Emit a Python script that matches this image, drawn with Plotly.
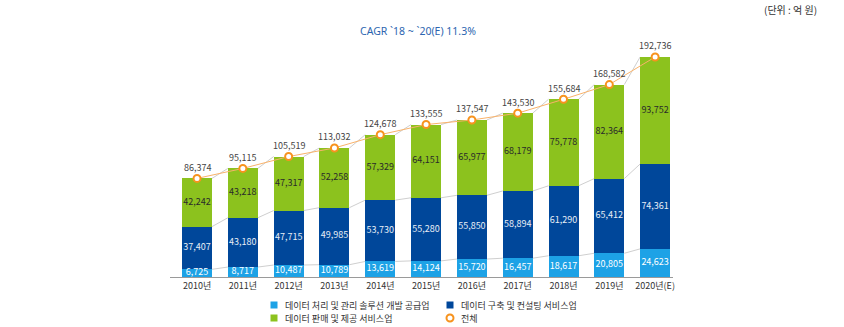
import plotly.graph_objects as go

# Market size by segment (unit: 100 million KRW)
years = ["2010년", "2011년", "2012년", "2013년", "2014년", "2015년",
         "2016년", "2017년", "2018년", "2019년", "2020년(E)"]
solution = [6725, 8717, 10487, 10789, 13619, 14124, 15720, 16457, 18617, 20805, 24623]
consulting = [37407, 43180, 47715, 49985, 53730, 55280, 55850, 58894, 61290, 65412, 74361]
sales = [42242, 43218, 47317, 52258, 57329, 64151, 65977, 68179, 75778, 82364, 93752]
total = [86374, 95115, 105519, 113032, 124678, 133555, 137547, 143530, 155684, 168582, 192736]

names = ["데이터 처리 및 관리 솔루션 개발 공급업", "데이터 구축 및 컨설팅 서비스업",
         "데이터 판매 및 제공 서비스업", "전체"]

C_LIGHT = "#1da2e6"
C_DARK = "#00479a"
C_GREEN = "#8cc21e"
C_ORANGE = "#f7931e"
FONT = "Noto Sans CJK KR"
BAR_W = 0.655

# plot-area geometry in pixels (used to place the hand-drawn key)
W, H = 844, 327
ML, MR, MT, MB = 170, 171, 40, 50
PW, PH = W - ML - MR, H - MT - MB
px = lambda v: (v - ML) / PW
py = lambda v: (H - MB - v) / PH

x = list(range(len(years)))
fmt = lambda v: f"{v:,}"

fig = go.Figure()
series = [(solution, C_LIGHT, "white"), (consulting, C_DARK, "#e8eef6"), (sales, C_GREEN, "#2a2a2a")]
for (vals, col, _), nm in zip(series, names[:3]):
    fig.add_trace(go.Bar(x=x, y=vals, name=nm, marker=dict(color=col, line=dict(width=0)),
                         width=BAR_W, hoverinfo="skip"))

# value labels centred in each stacked segment
base = [0] * len(x)
bounds = []
for vals, _, tcol in series:
    mids = [b + v / 2 for b, v in zip(base, vals)]
    fig.add_trace(go.Scatter(x=x, y=mids, mode="text", text=[fmt(v) for v in vals],
                             textfont=dict(family=FONT, size=9, color=tcol),
                             showlegend=False, hoverinfo="skip"))
    base = [b + v for b, v in zip(base, vals)]
    bounds.append(list(base))

# thin connectors between adjacent bars at every segment boundary
for lvl in bounds:
    for i in range(len(x) - 1):
        fig.add_shape(type="line", xref="x", yref="y", layer="below",
                      x0=x[i] + BAR_W / 2, y0=lvl[i], x1=x[i + 1] - BAR_W / 2, y1=lvl[i + 1],
                      line=dict(color="#cfcfcf", width=1))

# total line
fig.add_trace(go.Scatter(x=x, y=total, mode="lines+markers", name=names[3],
                         line=dict(color="#f9b26a", width=1),
                         marker=dict(size=7, color="white", line=dict(color=C_ORANGE, width=2)),
                         hoverinfo="skip"))

for xi, t in zip(x, total):
    fig.add_annotation(x=xi, y=t, text=fmt(t), showarrow=False, yshift=11,
                       font=dict(family=FONT, size=9, color="#444"))

fig.add_annotation(xref="paper", yref="paper", x=px(418), y=py(31), xanchor="center", yanchor="middle",
                   text="CAGR `18 ~ `20(E) 11.3%", showarrow=False,
                   font=dict(family="Noto Sans", size=10.5, color="#2d66b0"))
fig.add_annotation(xref="paper", yref="paper", x=px(790), y=py(9), xanchor="center", yanchor="middle",
                   text="(단위 : 억 원)", showarrow=False,
                   font=dict(family=FONT, size=10, color="#333"))

# key: two columns, two rows
key = [(names[0], C_LIGHT, 274, 305, "sq"), (names[1], C_DARK, 450, 305, "sq"),
       (names[2], C_GREEN, 274, 318, "sq"), (names[3], C_ORANGE, 450, 318, "ci")]
for label, col, kx, ky, kind in key:
    if kind == "sq":
        fig.add_shape(type="rect", xref="paper", yref="paper",
                      x0=px(kx - 3.5), x1=px(kx + 3.5), y0=py(ky + 3.5), y1=py(ky - 3.5),
                      fillcolor=col, line=dict(width=0))
    else:
        fig.add_shape(type="circle", xref="paper", yref="paper",
                      x0=px(kx - 3.5), x1=px(kx + 3.5), y0=py(ky + 3.5), y1=py(ky - 3.5),
                      fillcolor="white", line=dict(color=col, width=2))
    fig.add_annotation(xref="paper", yref="paper", x=px(kx + 9), y=py(ky), xanchor="left",
                       yanchor="middle", text=label, showarrow=False,
                       font=dict(family=FONT, size=9, color="#333"))

fig.update_layout(
    width=W, height=H,
    margin=dict(l=ML, r=MR, t=MT, b=MB, autoexpand=False),
    paper_bgcolor="white", plot_bgcolor="white",
    barmode="stack",
    font=dict(family=FONT, size=9, color="#333"),
    showlegend=False,
    xaxis=dict(range=[-0.59, 10.39], tickvals=x, ticktext=years, showgrid=False,
               zeroline=False, showline=True, linecolor="#9a9a9a", linewidth=1,
               ticks="", tickfont=dict(family=FONT, size=9, color="#333")),
    yaxis=dict(range=[0, 207620], visible=False),
)

fig.write_html("out.html")
